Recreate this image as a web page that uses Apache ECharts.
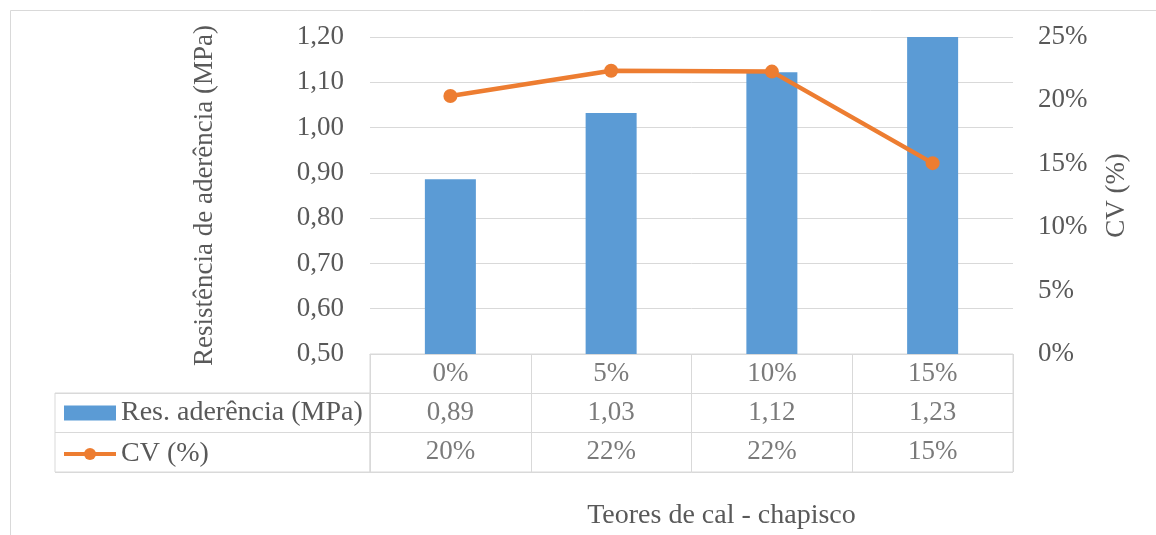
<!DOCTYPE html>
<html>
<head>
<meta charset="utf-8">
<script src="https://cdn.jsdelivr.net/npm/echarts@6/dist/echarts.min.js"></script>
<style>
html,body{margin:0;padding:0;background:#fff;}
#chart{width:1156px;height:535px;}
</style>
</head>
<body>
<div id="chart"></div>
<script>
var categories = ['0%', '5%', '10%', '15%'];
var resAderencia = [0.886, 1.032, 1.122, 1.23];
var cvPercent = [20.35, 22.34, 22.27, 15.05];
var leftTicks = {min: 0.5, max: 1.2, interval: 0.1};
var rightTicks = {min: 0, max: 25, interval: 5};
var barName = 'Res. aderência (MPa)';
var lineName = 'CV (%)';
var xTitle = 'Teores de cal - chapisco';
var yLeftTitle = 'Resistência de aderência (MPa)';
var yRightTitle = 'CV (%)';

var FONT = 'Liberation Serif';
var TXT = '#595959';
var GRID = '#D9D9D9';
var FS = 27;
var FS2 = 28;

function fmt2(v){ return v.toFixed(2).replace('.', ','); }
function fmtPct(v){ return Math.round(v) + '%'; }

var cells = [];
categories.forEach(function(c, i){
  cells.push({value:[i, 0], label:{formatter: c}});
  cells.push({value:[i, 1], label:{formatter: fmt2(resAderencia[i])}});
  cells.push({value:[i, 2], label:{formatter: fmtPct(cvPercent[i])}});
});

var chart = echarts.init(document.getElementById('chart'), null, {renderer:'canvas'});
chart.setOption({
  animation: false,
  backgroundColor: '#fff',
  textStyle: {fontFamily: FONT, color: TXT},
  graphic: [{
    type: 'rect', left: 8, top: 8, silent: true,
    shape: {x: 0, y: 0, width: 1200, height: 600},
    style: {fill: 'none', stroke: GRID, lineWidth: 1}
  }],
  legend: {
    data: [
      {name: barName, icon: 'rect'},
      {name: lineName, lineStyle: {width: 4, color: '#ED7D31'}, itemStyle: {color: '#ED7D31'}}
    ],
    orient: 'vertical',
    left: 62, top: 399,
    padding: 0,
    itemWidth: 52, itemHeight: 15,
    itemGap: 13,
    textStyle: {fontFamily: FONT, fontSize: FS2, color: TXT, lineHeight: 27, padding: [0,0,0,0]}
  },
  grid: [
    {left: 370, right: 143, top: 37, bottom: 181},
    {left: 370, right: 143, top: 354, height: 118, show: true, borderColor: GRID, borderWidth: 1},
    {left: 55, width: 315, top: 393, height: 79, show: true, borderColor: GRID, borderWidth: 1}
  ],
  xAxis: [
    {type: 'category', data: categories, gridIndex: 0,
     axisLine: {show: true, lineStyle: {color: GRID}},
     axisTick: {show: false}, axisLabel: {show: false},
     name: xTitle, nameLocation: 'middle', nameGap: 148,
     nameTextStyle: {fontFamily: FONT, fontSize: FS2, color: TXT, padding: [0, 0, 0, 60]}},
    {type: 'category', data: categories, gridIndex: 1,
     axisLine: {show: false}, axisTick: {show: false}, axisLabel: {show: false},
     splitLine: {show: true, lineStyle: {color: GRID, width: 1}}},
    {type: 'value', gridIndex: 2, show: false}
  ],
  yAxis: [
    {type: 'value', gridIndex: 0, min: leftTicks.min, max: leftTicks.max, interval: leftTicks.interval,
     axisLine: {show: false}, axisTick: {show: false},
     axisLabel: {formatter: fmt2, fontFamily: FONT, fontSize: FS, color: TXT, margin: 26},
     splitLine: {lineStyle: {color: GRID, width: 1}},
     name: yLeftTitle, nameLocation: 'middle', nameGap: 152, nameRotate: 90,
     nameTextStyle: {fontFamily: FONT, fontSize: FS, color: TXT}},
    {type: 'value', gridIndex: 0, position: 'right', min: rightTicks.min, max: rightTicks.max, interval: rightTicks.interval,
     axisLine: {show: false}, axisTick: {show: false},
     axisLabel: {formatter: '{value}%', fontFamily: FONT, fontSize: FS, color: TXT, margin: 25},
     splitLine: {show: false},
     name: yRightTitle, nameLocation: 'middle', nameGap: 90, nameRotate: 90,
     nameTextStyle: {fontFamily: FONT, fontSize: FS, color: TXT}},
    {type: 'category', gridIndex: 1, data: ['h', 'r', 'c'], inverse: true,
     axisLine: {show: false}, axisTick: {show: false}, axisLabel: {show: false},
     splitLine: {show: true, lineStyle: {color: GRID, width: 1}}},
    {type: 'category', gridIndex: 2, data: ['r', 'c'], inverse: true,
     axisLine: {show: false}, axisTick: {show: false}, axisLabel: {show: false},
     splitLine: {show: true, lineStyle: {color: GRID, width: 1}}}
  ],
  series: [
    {name: barName, type: 'bar', xAxisIndex: 0, yAxisIndex: 0, data: resAderencia,
     barWidth: 51, itemStyle: {color: '#5B9BD5'}, clip: true},
    {name: lineName, type: 'line', xAxisIndex: 0, yAxisIndex: 1, data: cvPercent,
     symbol: 'circle', symbolSize: 14,
     lineStyle: {color: '#ED7D31', width: 4.5}, itemStyle: {color: '#ED7D31'}},
    {name: 'table', type: 'scatter', xAxisIndex: 1, yAxisIndex: 2, data: cells,
     symbolSize: 1, itemStyle: {color: 'rgba(0,0,0,0)'}, silent: true,
     label: {show: true, position: 'inside', fontFamily: FONT, fontSize: FS, color: TXT}}
  ]
});
</script>
</body>
</html>
